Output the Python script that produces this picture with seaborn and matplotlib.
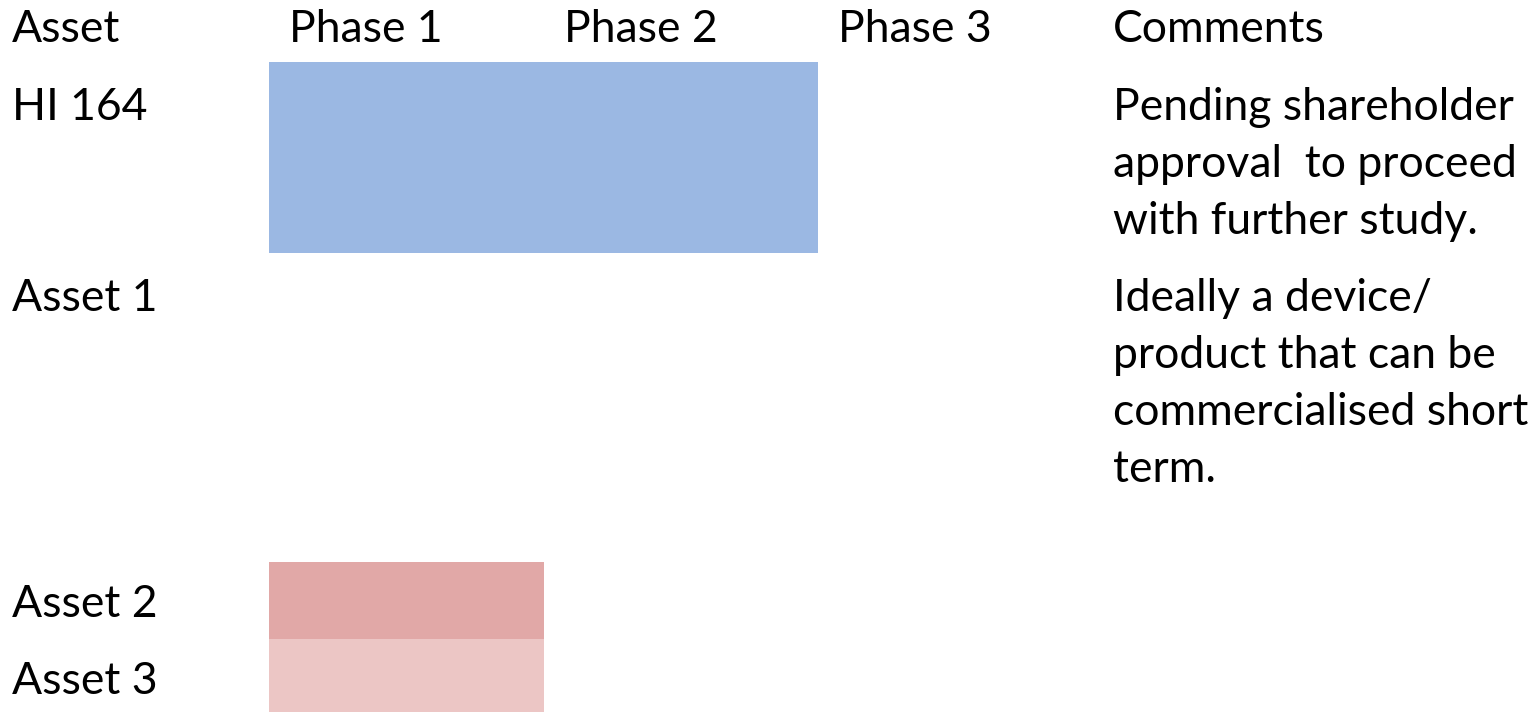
import matplotlib
matplotlib.use('Agg')
import matplotlib.pyplot as plt
import seaborn as sns

# ---- data ----
HEADERS = ['Asset', 'Phase 1', 'Phase 2', 'Phase 3', 'Comments']
ASSETS = ['HI 164', 'Asset 1', 'Asset 2', 'Asset 3']
PHASE_START = [0, 0, 0, 0]
PHASE_END = [2, 0, 1, 1]          # number of phases covered by the bar
COLORS = ['#9BB8E3', '#FFFFFF', '#E1A8A7', '#ECC6C5']
COMMENTS = [
    ['Pending shareholder', 'approval  to proceed', 'with further study.'],
    ['Ideally a device/', 'product that can be', 'commercialised short', 'term.'],
    [],
    [],
]

# ---- layout (pixels) ----
W, H = 1539, 712
PHASE_X0 = 269          # left edge of phase 1 column
PHASE_W = 274.5         # width of one phase column
ROW_TOP = [62, 253, 562, 639]
ROW_H = [191, 0, 77, 73]
ROW_BASE = [120, 311, 617, 694]
HEADER_BASE = 42
LINE_STEP = 57
FS = 32

sns.set_theme(style='white')
plt.rcParams['font.family'] = ['Lato', 'DejaVu Sans']

fig = plt.figure(figsize=(W / 100, H / 100), dpi=100)
ax = fig.add_axes([0, 0, 1, 1])
ax.set_xlim(-PHASE_X0 / PHASE_W, (W - PHASE_X0) / PHASE_W)
ax.set_ylim(H, 0)
ax.axis('off')

# bars
for start, end, top, h, c in zip(PHASE_START, PHASE_END, ROW_TOP, ROW_H, COLORS):
    if end > start:
        ax.barh(top + h / 2, end - start, left=start, height=h, color=c, linewidth=0)

def put(xpx, ypx, s):
    fig.text(xpx / W, 1 - ypx / H, s, fontsize=FS, color='black', ha='left', va='baseline')

# headers
header_x = [12] + [PHASE_X0 + 20 + i * PHASE_W for i in range(3)] + [1113]
for x, s in zip(header_x, HEADERS):
    put(x, HEADER_BASE, s)

# rows
for name, base, lines in zip(ASSETS, ROW_BASE, COMMENTS):
    put(12, base, name)
    for k, line in enumerate(lines):
        put(1113, base + k * LINE_STEP, line)

fig.savefig('out.png', dpi=100, facecolor='white')
